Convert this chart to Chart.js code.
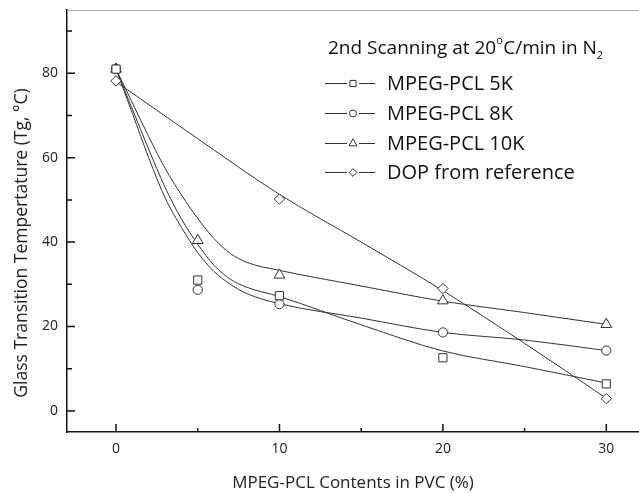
<!DOCTYPE html>
<html>
<head>
<meta charset="utf-8">
<script src="https://cdn.jsdelivr.net/npm/chart.js@4.4.0/dist/chart.umd.min.js"></script>
<style>
  html, body { margin: 0; padding: 0; background: #fff; }
  #wrap { width: 639px; height: 493px; }
</style>
</head>
<body>
<div id="wrap"><canvas id="myChart"></canvas></div>
<script>
// measured points
const contents = [0, 5, 10, 20, 30];
const tg5k = [81, 31, 27.3, 12.6, 6.4];
const tg8k = [81, 28.7, 25.3, 18.6, 14.3];
const tg10k = [81, 40.4, 32.2, 26.1, 20.5];
const dopContents = [0, 10, 20, 30];
const tgDop = [78.2, 50.2, 29, 2.9];

// fitted curves
const fitX = [0, 1, 2, 3, 4, 5, 6, 7, 8, 10, 15, 20, 25, 30];
const fit5k = [81, 71.5, 62, 53, 45.5, 39.5, 34.5, 31.2, 29.3, 27.1, 20.4, 14.2, 10.5, 6.6];
const fit8k = [81, 70.5, 60, 50.5, 43.5, 37.5, 33, 30, 27.8, 25.4, 22, 18.6, 16.8, 14.3];
const fit10k = [81, 73, 65, 57.5, 51.2, 45.6, 40.8, 37.3, 35.2, 33.3, 29.6, 26, 23.3, 20.5];
const fitDopX = [0, 5, 10, 15, 20, 25, 30];
const fitDop = [78, 64.5, 51.3, 40, 28.5, 16, 3];

const xTicks = [0, 10, 20, 30];
const yTicks = [0, 20, 40, 60, 80];
const seriesNames = ['MPEG-PCL 5K', 'MPEG-PCL 8K', 'MPEG-PCL 10K', 'DOP from reference'];
const yTitle = 'Glass Transition Tempertature (Tg, °C)';

const ink = '#333';
const pts = (xs, ys) => xs.map((v, i) => ({ x: v, y: ys[i] }));

function fitSet(xs, ys) {
  return {
    data: pts(xs, ys), showLine: true, borderColor: ink, borderWidth: 1,
    pointRadius: 0, cubicInterpolationMode: 'monotone', order: 2
  };
}
function markSet(name, xs, ys, style, r) {
  return {
    label: name, data: pts(xs, ys), showLine: false, pointStyle: style,
    pointRadius: r, pointBorderColor: ink, pointBackgroundColor: '#fff',
    pointBorderWidth: 1, order: 1
  };
}

const styles = ['rect', 'circle', 'triangle', 'rectRot'];
const radii = [5.8, 4.6, 6.2, 5.2];

const decor = {
  id: 'decor',
  afterDraw(chart) {
    const { ctx, chartArea: a, scales: { x, y } } = chart;
    ctx.save();
    ctx.strokeStyle = '#aaa';
    ctx.lineWidth = 1;
    ctx.beginPath();
    ctx.moveTo(a.left, a.top + 0.5);
    ctx.lineTo(a.right, a.top + 0.5);
    ctx.stroke();

    ctx.strokeStyle = '#111';
    ctx.lineWidth = 1.5;
    ctx.beginPath();
    for (let v = 0; v <= 30; v += 5) {
      const px = x.getPixelForValue(v);
      const len = v % 10 === 0 ? 8 : 4;
      ctx.moveTo(px, a.bottom);
      ctx.lineTo(px, a.bottom - len);
    }
    for (let v = 0; v <= 90; v += 10) {
      const py = y.getPixelForValue(v);
      const len = v % 20 === 0 ? 8 : 5;
      ctx.moveTo(a.left, py);
      ctx.lineTo(a.left + len, py);
    }
    ctx.stroke();

    // y title, sits a little below the axis middle
    ctx.save();
    ctx.translate(22, 243);
    ctx.rotate(-Math.PI / 2);
    ctx.fillStyle = '#222';
    ctx.font = '17.5px "Open Sans"';
    ctx.textAlign = 'center';
    ctx.textBaseline = 'middle';
    ctx.fillText(yTitle, 0, 0);
    ctx.restore();

    // legend
    ctx.fillStyle = '#111';
    ctx.textBaseline = 'alphabetic';
    ctx.textAlign = 'left';
    let tx = 328;
    const by = 54;
    const parts = [['2nd Scanning at 20', 0, 19], ['o', -10, 11], ['C/min in N', 0, 19], ['2', 5, 11]];
    parts.forEach(([t, dy, fs]) => {
      ctx.font = fs + 'px "Open Sans"';
      ctx.fillText(t, tx, by + dy);
      tx += ctx.measureText(t).width + (fs < 18 ? 0.5 : 0);
    });

    const rows = [83, 113, 143, 172];
    ctx.font = '20px "Open Sans"';
    ctx.textBaseline = 'middle';
    rows.forEach((ry, i) => {
      ctx.strokeStyle = ink;
      ctx.lineWidth = 1;
      ctx.beginPath();
      ctx.moveTo(325, ry + 0.5); ctx.lineTo(347, ry + 0.5);
      ctx.moveTo(359, ry + 0.5); ctx.lineTo(375, ry + 0.5);
      ctx.stroke();
      ctx.fillStyle = '#fff';
      Chart.helpers.drawPoint(ctx, { pointStyle: styles[i], radius: radii[i] * 0.75, rotation: 0, borderWidth: 1 }, 353, ry + 0.5);
      ctx.fillStyle = '#111';
      ctx.fillText(seriesNames[i], 387, ry + 1);
    });
    ctx.restore();
  }
};

new Chart(document.getElementById('myChart'), {
  type: 'scatter',
  data: {
    datasets: [
      fitSet(fitX, fit5k),
      fitSet(fitX, fit8k),
      fitSet(fitX, fit10k),
      fitSet(fitDopX, fitDop),
      markSet(seriesNames[0], contents, tg5k, styles[0], radii[0]),
      markSet(seriesNames[1], contents, tg8k, styles[1], radii[1]),
      markSet(seriesNames[2], contents, tg10k, styles[2], radii[2]),
      markSet(seriesNames[3], dopContents, tgDop, styles[3], radii[3])
    ]
  },
  options: {
    responsive: true,
    maintainAspectRatio: false,
    animation: false,
    layout: { autoPadding: false, padding: { top: 10, right: 0, left: 0, bottom: 0 } },
    plugins: { legend: { display: false }, tooltip: { enabled: false } },
    scales: {
      x: {
        type: 'linear', min: -3, max: 32,
        afterBuildTicks: s => { s.ticks = xTicks.map(v => ({ value: v })); },
        afterFit: s => { s.height = 61; s.paddingLeft = 0; s.paddingRight = 0; },
        grid: { display: true, drawOnChartArea: false, drawTicks: false },
        border: { display: true, color: '#111', width: 1.5 },
        ticks: { padding: 9, color: '#222', font: { family: 'Open Sans', size: 14 } },
        title: { display: true, text: 'MPEG-PCL Contents in PVC (%)', color: '#222',
                 font: { family: 'Open Sans', size: 17 }, padding: { top: 0, bottom: 0 } }
      },
      y: {
        type: 'linear', min: -5, max: 95,
        afterBuildTicks: s => { s.ticks = yTicks.map(v => ({ value: v })); },
        afterFit: s => { s.width = 67; s.paddingTop = 0; s.paddingBottom = 0; },
        grid: { display: true, drawOnChartArea: false, drawTicks: false },
        border: { display: true, color: '#111', width: 1.5 },
        ticks: { padding: 9, color: '#222', font: { family: 'Open Sans', size: 14 } },
        title: { display: false }
      }
    }
  },
  plugins: [decor]
});
</script>
</body>
</html>
